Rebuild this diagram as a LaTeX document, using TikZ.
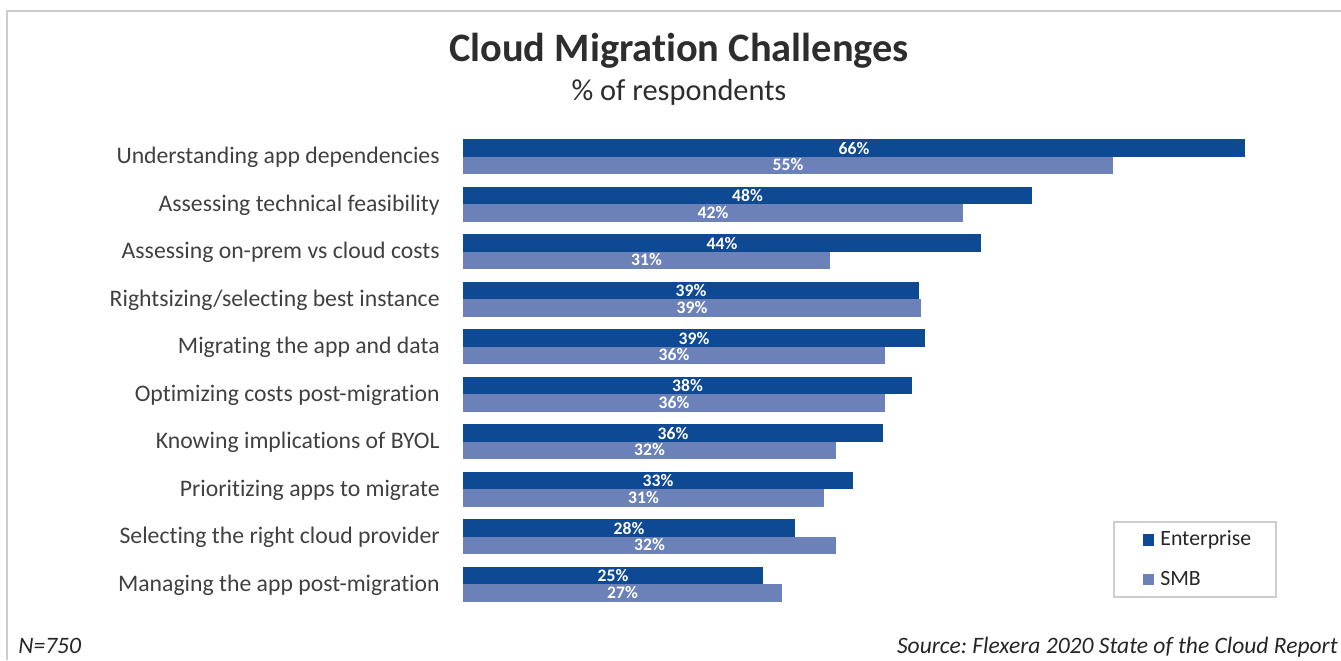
\documentclass[tikz,border=0pt]{standalone}
\usepackage{fontspec}
\setmainfont{Carlito}[Ligatures=NoCommon]
\frenchspacing
\definecolor{entblue}{RGB}{14,74,148}
\definecolor{smbblue}{RGB}{107,129,183}
\definecolor{textgray}{RGB}{64,64,64}
\definecolor{titlegray}{RGB}{45,45,45}
\definecolor{framegray}{RGB}{205,205,205}
\tikzset{
  cat/.style={anchor=base east,text=textgray,inner sep=0pt,font=\fontsize{13.5}{15}\selectfont},
  val/.style={anchor=base,text=white,inner sep=0pt,font=\bfseries\fontsize{10}{11}\selectfont},
  key/.style={anchor=base west,text=black!85,inner sep=0pt,font=\fontsize{12.4}{14}\selectfont},
  note/.style={anchor=base,text=black!85,inner sep=0pt,font=\itshape\fontsize{13.4}{15}\selectfont}
}

\begin{document}
\begin{tikzpicture}[x=0.02cm,y=-0.02cm]
      \useasboundingbox (0,0) rectangle (1341,660);
      \draw[framegray,line width=1.2pt] (7,660) -- (7,11) -- (1341,11);

      \node [anchor=base,text=titlegray,inner sep=0pt,font=\bfseries\fontsize{23}{26}\selectfont] (title) at (679,61.7) {Cloud Migration Challenges};
      \node [anchor=base,text=titlegray,inner sep=0pt,font=\fontsize{17.3}{20}\selectfont] (sub) at (679,100) {\% of respondents};

      % label / enterprise / smb / bar ends
      \foreach \txt/\ent/\smb/\xe/\xs [count=\i from 0] in {
          Understanding app dependencies/66/55/1245/1113,
          Assessing technical feasibility/48/42/1032/963,
          Assessing on-prem vs cloud costs/44/31/981/830,
          {Rightsizing/selecting best instance}/39/39/919/921,
          Migrating the app and data/39/36/925/885,
          Optimizing costs post-migration/38/36/912/885,
          Knowing implications of BYOL/36/32/883/836,
          Prioritizing apps to migrate/33/31/853/824,
          Selecting the right cloud provider/28/32/795/836,
          Managing the app post-migration/25/27/763/782} {
        \pgfmathsetmacro{\ytop}{139.3+47.5*\i}
        \fill[entblue] (463,\ytop) rectangle (\xe,\ytop+17.4);
        \fill[smbblue] (463,\ytop+17.4) rectangle (\xs,\ytop+34.8);
        \node [cat] (cat\i) at (440,\ytop+24.5) {\txt};
        \node [val] (ent\i) at ({(463+\xe)/2},\ytop+15) {\ent\%};
        \node [val] (smb\i) at ({(463+\xs)/2},\ytop+31.6) {\smb\%};
      }

      \draw[framegray,line width=0.9pt] (1114,522) rectangle (1276,597);
      \fill[entblue] (1143,534) rectangle (1154,546);
      \fill[smbblue] (1143,574) rectangle (1154,585);
      \node [key] (entkey) at (1160,545.5) {Enterprise};
      \node [key] (smbkey) at (1160,585) {SMB};

      \node [note,anchor=base west] (n) at (18,653) {N=750};
      \node [note,anchor=base east] (src) at (1338,653) {Source: Flexera 2020 State of the Cloud Report};
    \end{tikzpicture}
\end{document}
